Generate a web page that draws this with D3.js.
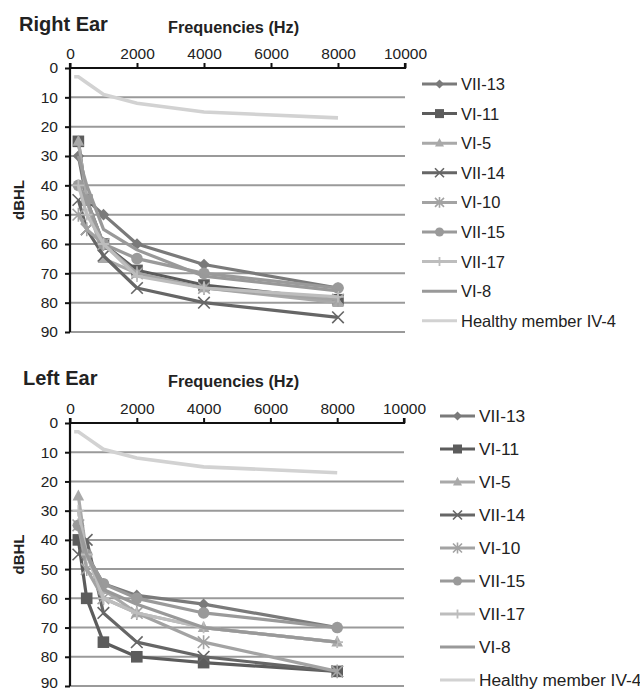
<!DOCTYPE html>
<html><head><meta charset="utf-8">
<script src="https://cdn.jsdelivr.net/npm/d3@7"></script>
<style>body{margin:0;background:#fff}text{font-family:"Liberation Sans",Arial,sans-serif;fill:#222}</style>
</head><body><svg id="c" width="640" height="692"></svg>
<script>
// ---- data ----
const patientFreqs = [250, 500, 1000, 2000, 4000, 8000];
const healthyFreqs = [125, 250, 500, 1000, 2000, 4000, 8000];
const seriesNames = ["VII-13", "VI-11", "VI-5", "VII-14", "VI-10", "VII-15", "VII-17", "VI-8", "Healthy member IV-4"];
const xTickValues = [0, 2000, 4000, 6000, 8000, 10000];
const yTickValues = [0, 10, 20, 30, 40, 50, 60, 70, 80, 90];

// Right ear (dBHL at patientFreqs)
const rightVII13 = [30, 45, 50, 60, 67, 75];
const rightVI11  = [25, 45, 60, 69, 74, 79];
const rightVI5   = [25, 45, 65, 70, 75, 80];
const rightVII14 = [45, 55, 64, 75, 80, 85];
const rightVI10  = [50, 55, 60, 70, 75, 79];
const rightVII15 = [40, 45, 60, 65, 70, 75];
const rightVII17 = [40, 50, 60, 71, 75, 78];
const rightVI8   = [30, 40, 55, 62, 71, 76];
const rightHealthy = [3, 3, 5, 9, 12, 15, 17];

// Left ear
const leftVII13 = [35, 45, 55, 59, 62, 70];
const leftVI11  = [40, 60, 75, 80, 82, 85];
const leftVI5   = [25, 45, 57, 65, 70, 75];
const leftVII14 = [45, 40, 65, 75, 80, 85];
const leftVI10  = [35, 50, 60, 65, 75, 85];
const leftVII15 = [35, 45, 55, 60, 65, 70];
const leftVII17 = [30, 45, 60, 65, 70, 75];
const leftVI8   = [35, 45, 57, 62, 70, 75];
const leftHealthy = [3, 3, 5, 9, 12, 15, 17];

// ---- styles ----
const colors = ["#7a7a7a", "#5c5c5c", "#a9a9a9", "#666666", "#a3a3a3", "#9a9a9a", "#bdbdbd", "#999999", "#d2d2d2"];
const markers = ["diamond", "square", "triangle", "x", "asterisk", "circle", "plus", "none", "none"];

const svg = d3.select("#c");

function drawMarker(g, type, s, color) {
  if (type === "diamond") g.append("path").attr("d", `M0,${-s}L${s},0L0,${s}L${-s},0Z`).attr("fill", color);
  else if (type === "square") g.append("rect").attr("x", -s).attr("y", -s).attr("width", 2*s).attr("height", 2*s).attr("fill", color);
  else if (type === "triangle") g.append("path").attr("d", `M0,${-s*1.15}L${s},${s*0.75}L${-s},${s*0.75}Z`).attr("fill", color);
  else if (type === "circle") g.append("circle").attr("r", s).attr("fill", color);
  else if (type === "x") g.append("path").attr("d", `M${-s},${-s}L${s},${s}M${-s},${s}L${s},${-s}`).attr("stroke", color).attr("stroke-width", 1.6).attr("fill", "none");
  else if (type === "asterisk") g.append("path").attr("d", `M${-s},${-s}L${s},${s}M${-s},${s}L${s},${-s}M0,${-s*1.2}V${s*1.2}`).attr("stroke", color).attr("stroke-width", 1.6).attr("fill", "none");
  else if (type === "plus") g.append("path").attr("d", `M${-s},0H${s}M0,${-s}V${s}`).attr("stroke", color).attr("stroke-width", 1.8).attr("fill", "none");
}

function panel(cfg) {
  const x = d3.scaleLinear().domain([0, 10000]).range([70, cfg.xRight]);
  const y = d3.scaleLinear().domain([0, 90]).range([cfg.y0, cfg.y90]);
  const g = svg.append("g");

  g.append("text").attr("x", cfg.titleX).attr("y", cfg.titleY).attr("font-size", 20).attr("font-weight", "bold").text(cfg.title);
  g.append("text").attr("x", 168).attr("y", cfg.freqY).attr("font-size", 16.3).attr("font-weight", "bold").text("Frequencies (Hz)");
  g.append("text").attr("transform", `translate(24,${(cfg.y0 + cfg.y90) / 2}) rotate(-90)`).attr("text-anchor", "middle")
    .attr("font-size", 15).attr("font-weight", "bold").text("dBHL");

  g.append("g").selectAll("line").data(yTickValues.filter(d => d > 0)).join("line")
    .attr("x1", 70).attr("x2", cfg.xRight).attr("y1", d => y(d)).attr("y2", d => y(d))
    .attr("stroke", "#9a9a9a").attr("stroke-width", 2);

  const xAxis = g.append("g").attr("transform", `translate(0,${cfg.y0})`)
    .call(d3.axisTop(x).tickValues(xTickValues).tickSize(5).tickPadding(4).tickFormat(d3.format("d")));
  xAxis.select(".domain").attr("stroke", "#111").attr("stroke-width", 2.2).attr("d", `M70,-5V0H${cfg.xRight}V-5`);
  xAxis.selectAll(".tick line").attr("stroke", "#111").attr("stroke-width", 2);
  xAxis.selectAll(".tick text").attr("font-size", 15.5).attr("fill", "#222").attr("font-family", "Liberation Sans, Arial, sans-serif");

  const yAxis = g.append("g").attr("transform", "translate(70,0)")
    .call(d3.axisLeft(y).tickValues(yTickValues).tickSize(5).tickPadding(7));
  yAxis.select(".domain").attr("stroke", "#111").attr("stroke-width", 2.2).attr("d", `M0,${cfg.y0}V${cfg.y90}`);
  yAxis.selectAll(".tick line").attr("stroke", "#111").attr("stroke-width", 2);
  yAxis.selectAll(".tick text").attr("font-size", 15.5).attr("fill", "#222").attr("font-family", "Liberation Sans, Arial, sans-serif")
    .attr("dy", d => (cfg.lastTickShift && d === 90) ? "0.1em" : "0.32em");

  const line = d3.line().x(d => x(d[0])).y(d => y(d[1]));

  cfg.series.forEach((vals, i) => {
    const pts = patientFreqs.map((f, j) => [f, vals[j]]);
    g.append("path").attr("d", line(pts)).attr("fill", "none").attr("stroke", colors[i]).attr("stroke-width", 3.2).attr("stroke-linejoin", "round");
    pts.forEach(p => {
      const m = g.append("g").attr("transform", `translate(${x(p[0])},${y(p[1])})`);
      drawMarker(m, markers[i], 5.8, colors[i]);
    });
  });
  const hp = healthyFreqs.map((f, j) => [f, cfg.healthy[j]]);
  g.append("path").attr("d", line(hp)).attr("fill", "none").attr("stroke", colors[8]).attr("stroke-width", 3.6);

  seriesNames.forEach((name, i) => {
    const ly = cfg.legY + i * cfg.legStep;
    const lg = g.append("g");
    lg.append("line").attr("x1", cfg.legX).attr("x2", cfg.legX + 35).attr("y1", ly).attr("y2", ly).attr("stroke", colors[i]).attr("stroke-width", 3);
    const m = lg.append("g").attr("transform", `translate(${cfg.legX + 17.5},${ly})`);
    drawMarker(m, markers[i], 4.5, colors[i]);
    lg.append("text").attr("x", cfg.legX + 39).attr("y", ly).attr("dy", "0.36em").attr("font-size", cfg.legFont).text(name);
  });
}

panel({ title: "Right Ear", titleX: 19, titleY: 31, freqY: 33, y0: 68, y90: 332, xRight: 405,
  series: [rightVII13, rightVI11, rightVI5, rightVII14, rightVI10, rightVII15, rightVII17, rightVI8], healthy: rightHealthy,
  legX: 422, legY: 84, legStep: 29.6, legFont: 16.5 });

panel({ title: "Left Ear", titleX: 23, titleY: 385, freqY: 387, y0: 423, y90: 686, xRight: 404, lastTickShift: true,
  series: [leftVII13, leftVI11, leftVI5, leftVII14, leftVI10, leftVII15, leftVII17, leftVI8], healthy: leftHealthy,
  legX: 440, legY: 416, legStep: 33, legFont: 17.3 });
</script></body></html>
